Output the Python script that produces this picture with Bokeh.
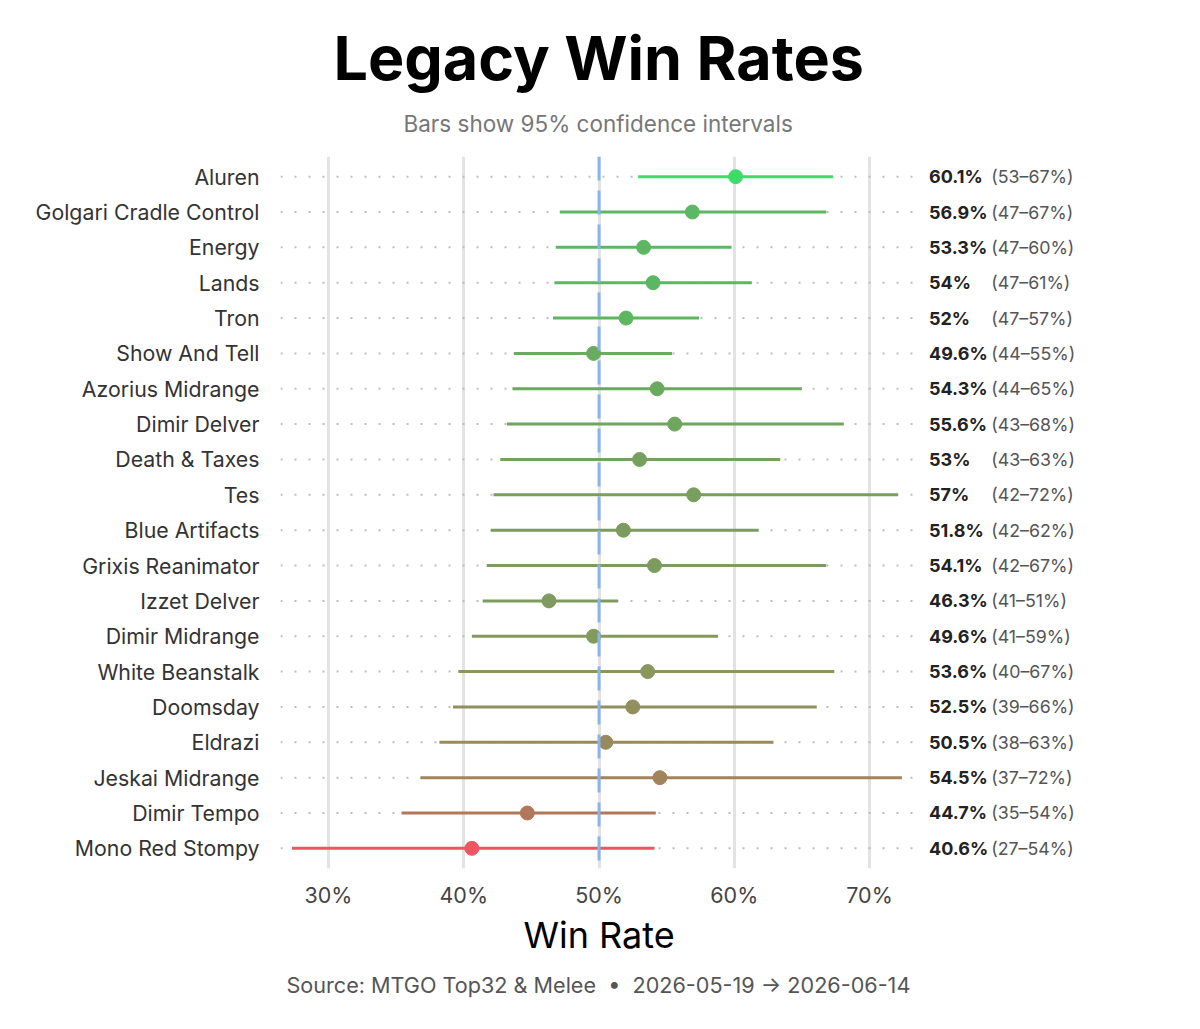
from bokeh.plotting import figure
from bokeh.models import (Range1d, FixedTicker, PrintfTickFormatter, Span, Title,
                          ColumnDataSource)
from bokeh.core.properties import value
from bokeh.embed import file_html
from bokeh.resources import INLINE

# ---------------- data ----------------
decks = ["Aluren", "Golgari Cradle Control", "Energy", "Lands", "Tron",
         "Show And Tell", "Azorius Midrange", "Dimir Delver", "Death & Taxes", "Tes",
         "Blue Artifacts", "Grixis Reanimator", "Izzet Delver", "Dimir Midrange",
         "White Beanstalk", "Doomsday", "Eldrazi", "Jeskai Midrange", "Dimir Tempo",
         "Mono Red Stompy"]
win_rate = [60.1, 56.9, 53.3, 54.0, 52.0, 49.6, 54.3, 55.6, 53.0, 57.0,
            51.8, 54.1, 46.3, 49.6, 53.6, 52.5, 50.5, 54.5, 44.7, 40.6]
ci_low = [52.9, 47.1, 46.8, 46.7, 46.6, 43.7, 43.6, 43.2, 42.7, 42.2,
          42.0, 41.7, 41.4, 40.6, 39.6, 39.2, 38.2, 36.8, 35.4, 27.3]
ci_high = [67.3, 66.8, 59.8, 61.3, 57.4, 55.4, 65.0, 68.1, 63.4, 72.1,
           61.8, 66.8, 51.4, 58.8, 67.4, 66.1, 62.9, 72.4, 54.2, 54.1]
colors = ["#3ddb6a", "#5cb862", "#5db762", "#5db762", "#5eb661",
          "#69ab5f", "#6aaa5f", "#6ea65e", "#74a25e", "#779f5e",
          "#7a9d5e", "#7c9b5e", "#7e9a5e", "#839a5c", "#8a965c",
          "#918f5e", "#998a5e", "#a2845c", "#b0775a", "#ee5560"]
ticks_pct = [30, 40, 50, 60, 70]
title_text = "Legacy Win Rates"
subtitle_text = "Bars show 95% confidence intervals"
source_text = "Source: MTGO Top32 & Melee\u00a0\u00a0\u2022\u00a0\u00a02026-05-19 \u2192 2026-06-14"
x_label = "Win Rate"

# ---------------- layout constants ----------------
FONT = "Inter"
X_MIN, X_PANEL_MAX, X_MAX = 26.45, 73.4, 87.08
X_VAL, X_CI = 74.4, 79.0

n = len(decks)
ypos = [n - 1 - i for i in range(n)]
val_labels = [f"{v:g}%" for v in win_rate]
ci_labels = [f"({round(lo):d}\u2013{round(hi):d}%)" for lo, hi in zip(ci_low, ci_high)]

src = ColumnDataSource(dict(y=ypos, wr=win_rate, lo=ci_low, hi=ci_high, color=colors,
                            vlab=val_labels, clab=ci_labels,
                            xs=[X_MIN] * n, xe=[X_PANEL_MAX] * n,
                            xv=[X_VAL] * n, xc=[X_CI] * n))

p = figure(width=1184, height=1011, output_backend="svg", toolbar_location=None,
           x_range=Range1d(X_MIN, X_MAX), y_range=Range1d(-0.57, n - 1 + 0.57),
           min_border_left=280, min_border_right=84, min_border_top=0,
           min_border_bottom=0, title=None)
p.outline_line_color = None
p.background_fill_color = "white"
p.border_fill_color = "white"

# grid
p.xgrid.ticker = FixedTicker(ticks=ticks_pct)
p.xgrid.grid_line_color = "#e3e3e3"
p.xgrid.grid_line_width = 3
p.ygrid.grid_line_color = None

# dotted row guides
p.segment(x0="xs", x1="xe", y0="y", y1="y", source=src, line_color="#bdbdbd",
          line_width=2, line_dash="2 12")

# 50% reference
p.add_layout(Span(location=50, dimension="height", line_color="#8ab4ec",
                  line_width=3, line_dash="24 10"))

# CI bars + points
p.segment(x0="lo", x1="hi", y0="y", y1="y", source=src, line_color="color", line_width=3)
p.scatter(x="wr", y="y", source=src, size=14, fill_color="color", line_color="color")

# right-hand labels
p.text(x="xv", y="y", text="vlab", source=src, text_font=value(FONT),
       text_font_style="bold", text_font_size="18px", text_color="#222222",
       text_baseline="middle", text_align="left")
p.text(x="xc", y="y", text="clab", source=src, text_font=value(FONT),
       text_font_size="17.8px", text_color="#555555",
       text_baseline="middle", text_align="left")

# axes
p.xaxis.ticker = FixedTicker(ticks=ticks_pct)
p.xaxis.formatter = PrintfTickFormatter(format="%d%%")
p.xaxis.axis_line_color = None
p.xaxis.major_tick_line_color = None
p.xaxis.minor_tick_line_color = None
p.xaxis.major_label_text_font = FONT
p.xaxis.major_label_text_font_size = "21.5px"
p.xaxis.major_label_text_color = "#444444"
p.xaxis.major_label_standoff = 7

p.yaxis.ticker = FixedTicker(ticks=ypos)
p.yaxis.major_label_overrides = {y: d for y, d in zip(ypos, decks)}
p.yaxis.axis_line_color = None
p.yaxis.major_tick_line_color = None
p.yaxis.minor_tick_line_color = None
p.yaxis.major_label_text_font = FONT
p.yaxis.major_label_text_font_size = "21.3px"
p.yaxis.major_label_text_color = "#333333"
p.yaxis.major_label_standoff = 15

# titles (closest to the frame first)
p.add_layout(Title(text=" ", text_font_size="1px", standoff=9), "above")
p.add_layout(Title(text=subtitle_text, align="left", offset=123, text_font=FONT,
                   text_font_size="22.5px", text_font_style="normal",
                   text_color="#777777", standoff=16), "above")
p.add_layout(Title(text=title_text, align="left", offset=53, text_font=FONT,
                   text_font_size="61px", text_font_style="bold",
                   text_color="#000000", standoff=10), "above")
p.add_layout(Title(text=" ", text_font_size="1px", standoff=10), "above")

# x-axis title (centred on the data panel) and source line
p.add_layout(Title(text=x_label, align="left", offset=243, text_font=FONT,
                   text_font_size="36px", text_font_style="normal",
                   text_color="#000000", standoff=0), "below")
p.add_layout(Title(text=source_text, align="left", offset=6, text_font=FONT,
                   text_font_size="21.6px", text_font_style="normal",
                   text_color="#555555", standoff=27), "below")

open("out.html", "w").write(file_html(p, INLINE))
